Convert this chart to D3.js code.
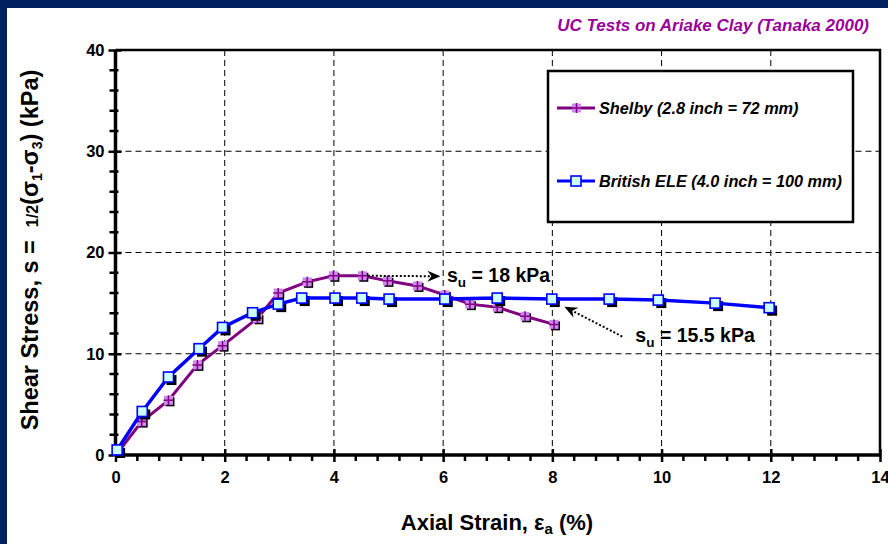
<!DOCTYPE html>
<html>
<head>
<meta charset="utf-8">
<script src="https://cdn.jsdelivr.net/npm/d3@7"></script>
<style>
  html, body { margin: 0; padding: 0; background: #fff; }
  svg { display: block; font-family: Arial, "Liberation Sans", Helvetica, sans-serif; }
</style>
</head>
<body>
<svg id="chart" width="888" height="544"></svg>
<script>
// Unconfined compression tests on Ariake clay
const shelbyStrain = [0.05, 0.48, 0.97, 1.5, 1.96, 2.6, 2.98, 3.51, 3.99, 4.52, 4.98, 5.53, 6.03, 6.49, 6.99, 7.5, 8.03];
const shelbyStress = [0.3, 3.3, 5.4, 8.9, 10.8, 13.5, 16.0, 17.1, 17.7, 17.7, 17.2, 16.7, 15.8, 14.9, 14.6, 13.7, 12.9];
const eleStrain = [0.03, 0.49, 0.97, 1.53, 1.96, 2.51, 2.98, 3.41, 4.02, 4.51, 5.01, 6.03, 6.99, 7.99, 9.04, 9.94, 10.98, 11.97];
const eleStress = [0.5, 4.3, 7.7, 10.5, 12.6, 14.05, 14.9, 15.5, 15.5, 15.5, 15.4, 15.4, 15.5, 15.4, 15.4, 15.3, 15.0, 14.55];
const xTickValues = [0, 2, 4, 6, 8, 10, 12, 14];
const yTickValues = [0, 10, 20, 30, 40];
const seriesNames = ["Shelby (2.8 inch = 72 mm)", "British ELE (4.0 inch = 100 mm)"];
const chartTitle = "UC Tests on Ariake Clay (Tanaka 2000)";
const suShelby = 18, suEle = 15.5;

const svg = d3.select("#chart");
const W = 888, H = 544;
const plot = { left: 115.5, right: 880, top: 50, bottom: 455 };

const x = d3.scaleLinear().domain([0, 14]).range([plot.left, plot.right]);
const y = d3.scaleLinear().domain([0, 40]).range([plot.bottom, plot.top]);

// navy frame around the slide area
svg.append("rect").attr("width", W).attr("height", H).attr("fill", "#002060");
svg.append("rect").attr("x", 7).attr("y", 8).attr("width", W - 7).attr("height", H - 8).attr("fill", "#fff");

// title
svg.append("text")
  .attr("x", 869).attr("y", 31)
  .attr("text-anchor", "end")
  .attr("font-size", 17).attr("font-weight", "bold").attr("font-style", "italic")
  .attr("fill", "#990099")
  .text(chartTitle);

// dashed grid
const grid = svg.append("g").attr("stroke", "#000").attr("stroke-width", 1).attr("stroke-dasharray", "6,4");
grid.selectAll("line.v").data(xTickValues.filter(d => d > 0 && d < 14)).join("line")
  .attr("x1", d => x(d)).attr("x2", d => x(d)).attr("y1", plot.top).attr("y2", plot.bottom);
grid.selectAll("line.h").data(yTickValues.filter(d => d > 0 && d < 40)).join("line")
  .attr("x1", plot.left).attr("x2", plot.right).attr("y1", d => y(d)).attr("y2", d => y(d));

// top and right frame
svg.append("path")
  .attr("d", `M${plot.left},${plot.top}H${plot.right}V${plot.bottom}`)
  .attr("fill", "none").attr("stroke", "#000").attr("stroke-width", 2.5);

// minor ticks
const minorX = d3.range(0, 14.001, 0.4).filter(v => xTickValues.every(t => Math.abs(t - v) > 1e-6));
const minorY = d3.range(0, 40.001, 2).filter(v => v % 10 !== 0);
const ticks = svg.append("g").attr("stroke", "#000").attr("stroke-width", 2.5);
ticks.selectAll("line.mx").data(minorX).join("line")
  .attr("x1", d => x(d)).attr("x2", d => x(d)).attr("y1", plot.bottom).attr("y2", plot.bottom + 6);
ticks.selectAll("line.my").data(minorY).join("line")
  .attr("x1", plot.left - 6).attr("x2", plot.left + 3).attr("y1", d => y(d)).attr("y2", d => y(d));

// axes
const xAxis = d3.axisBottom(x).tickValues(xTickValues).tickSize(7).tickPadding(9).tickFormat(d3.format("d"));
const yAxis = d3.axisLeft(y).tickValues(yTickValues).tickSize(7).tickPadding(4).tickFormat(d3.format("d"));

const gx = svg.append("g").attr("transform", `translate(0,${plot.bottom})`).call(xAxis);
const gy = svg.append("g").attr("transform", `translate(${plot.left},0)`).call(yAxis);
[gx, gy].forEach(g => {
  g.select(".domain").attr("stroke", "#000").attr("stroke-width", 3.5);
  g.selectAll(".tick line").attr("stroke", "#000").attr("stroke-width", 2.5);
  g.selectAll(".tick text").attr("fill", "#000").attr("font-size", 16.5).attr("font-weight", "bold")
    .attr("font-family", "Arial, 'Liberation Sans', sans-serif");
});
gx.selectAll(".tick line").attr("y1", -6);
gy.selectAll(".tick line").attr("x1", 6);
gy.select(".domain").attr("d", `M0,${plot.bottom}V${plot.top}`);
gx.select(".domain").attr("d", `M${plot.left},0H${plot.right}`);

// axis titles
const xt = svg.append("text")
  .attr("x", 497).attr("y", 530)
  .attr("text-anchor", "middle")
  .attr("font-size", 22).attr("font-weight", "bold").attr("fill", "#000");
xt.append("tspan").text("Axial Strain, ε");
xt.append("tspan").attr("font-size", 15).attr("dy", 4).text("a");
xt.append("tspan").attr("dy", -4).text(" (%)");

const yt = svg.append("text")
  .attr("transform", "translate(38,250) rotate(-90)")
  .attr("text-anchor", "middle")
  .attr("font-size", 23.5).attr("font-weight", "bold").attr("fill", "#000");
yt.append("tspan").text("Shear Stress, s =\u00a0\u00a0");
yt.append("tspan").attr("font-size", 16).text("1/2");
yt.append("tspan").text("(σ");
yt.append("tspan").attr("font-size", 14).attr("dy", 4).text("1");
yt.append("tspan").attr("dy", -4).text("-σ");
yt.append("tspan").attr("font-size", 14).attr("dy", 4).text("3");
yt.append("tspan").attr("dy", -4).text(") (kPa)");

// series
const shelby = shelbyStrain.map((v, i) => [v, shelbyStress[i]]);
const ele = eleStrain.map((v, i) => [v, eleStress[i]]);
const line = d3.line().x(d => x(d[0])).y(d => y(d[1]));

function drawShelby(g, pts) {
  g.selectAll("rect.sh").data(pts).join("rect")
    .attr("x", d => x(d[0]) - 3).attr("y", d => y(d[1]) - 3)
    .attr("width", 9).attr("height", 9).attr("fill", "#000");
  g.append("path").datum(pts).attr("d", line)
    .attr("fill", "none").attr("stroke", "#800080").attr("stroke-width", 3);
  const m = g.selectAll("g.mk").data(pts).join("g")
    .attr("transform", d => `translate(${x(d[0])},${y(d[1])})`);
  m.append("rect").attr("x", -4.5).attr("y", -4.5).attr("width", 9).attr("height", 9).attr("fill", "#cc88ee");
  m.append("path").attr("d", "M-5,0H5M0,-5V5").attr("stroke", "#800080").attr("stroke-width", 1.5);
}
function drawEle(g, pts) {
  g.selectAll("rect.sh").data(pts).join("rect")
    .attr("x", d => x(d[0]) - 2).attr("y", d => y(d[1]) - 2)
    .attr("width", 10).attr("height", 10).attr("fill", "#000");
  g.append("path").datum(pts).attr("d", line)
    .attr("fill", "none").attr("stroke", "#0000ff").attr("stroke-width", 3.5);
  g.selectAll("rect.mk").data(pts).join("rect")
    .attr("x", d => x(d[0]) - 5).attr("y", d => y(d[1]) - 5)
    .attr("width", 10).attr("height", 10)
    .attr("fill", "#ccffff").attr("stroke", "#0000ff").attr("stroke-width", 1.6);
}
drawShelby(svg.append("g"), shelby);
drawEle(svg.append("g"), ele);

// annotations: dotted arrows pointing at the strength values
function arrow(x1, y1, x2, y2) {
  const g = svg.append("g");
  const ang = Math.atan2(y2 - y1, x2 - x1);
  const L = 13;
  const bx = x2 - L * Math.cos(ang), by = y2 - L * Math.sin(ang);
  g.append("line").attr("x1", x1).attr("y1", y1).attr("x2", bx + 3 * Math.cos(ang)).attr("y2", by + 3 * Math.sin(ang))
    .attr("stroke", "#000").attr("stroke-width", 2).attr("stroke-dasharray", "2,2");
  const px = -Math.sin(ang), py = Math.cos(ang);
  const w = 5.5;
  const notch = 4;
  g.append("path")
    .attr("d", `M${x2},${y2}L${bx + px * w},${by + py * w}L${bx + notch * Math.cos(ang)},${by + notch * Math.sin(ang)}L${bx - px * w},${by - py * w}Z`)
    .attr("fill", "#000");
}
arrow(x(4.62), y(17.7), x(5.95), y(17.65));
arrow(x(9.28), y(11.7), x(8.22), y(14.65));

function suLabel(xv, yv, val) {
  const t = svg.append("text").attr("x", x(xv)).attr("y", y(yv))
    .attr("font-size", 19.5).attr("font-weight", "bold").attr("fill", "#000");
  t.append("tspan").text("s");
  t.append("tspan").attr("font-size", 13.5).attr("dy", 5).text("u");
  t.append("tspan").attr("dy", -5).text(` = ${val} kPa`);
}
suLabel(6.07, 17.1, suShelby);
suLabel(9.52, 11.15, suEle);

// legend
const lg = svg.append("g");
lg.append("rect").attr("x", 548).attr("y", 71).attr("width", 305).attr("height", 151)
  .attr("fill", "#fff").attr("stroke", "#000").attr("stroke-width", 2.5);
const entries = [
  { name: seriesNames[0], y: 108, kind: "shelby" },
  { name: seriesNames[1], y: 181, kind: "ele" }
];
entries.forEach(e => {
  if (e.kind === "shelby") {
    lg.append("line").attr("x1", 557).attr("x2", 595).attr("y1", e.y).attr("y2", e.y)
      .attr("stroke", "#800080").attr("stroke-width", 3);
    lg.append("rect").attr("x", 572).attr("y", e.y - 4.5).attr("width", 9).attr("height", 9).attr("fill", "#cc88ee");
    lg.append("path").attr("d", `M571,${e.y}H582M576.5,${e.y - 5}V${e.y + 5}`).attr("stroke", "#800080").attr("stroke-width", 1.5);
  } else {
    lg.append("line").attr("x1", 557).attr("x2", 595).attr("y1", e.y).attr("y2", e.y)
      .attr("stroke", "#0000ff").attr("stroke-width", 3);
    lg.append("rect").attr("x", 571).attr("y", e.y - 5).attr("width", 10).attr("height", 10)
      .attr("fill", "#ccffff").attr("stroke", "#0000ff").attr("stroke-width", 1.6);
  }
  lg.append("text").attr("x", 599).attr("y", e.y + 6)
    .attr("font-size", 16.3).attr("font-weight", "bold").attr("font-style", "italic").attr("fill", "#000")
    .text(e.name);
});
</script>
</body>
</html>
